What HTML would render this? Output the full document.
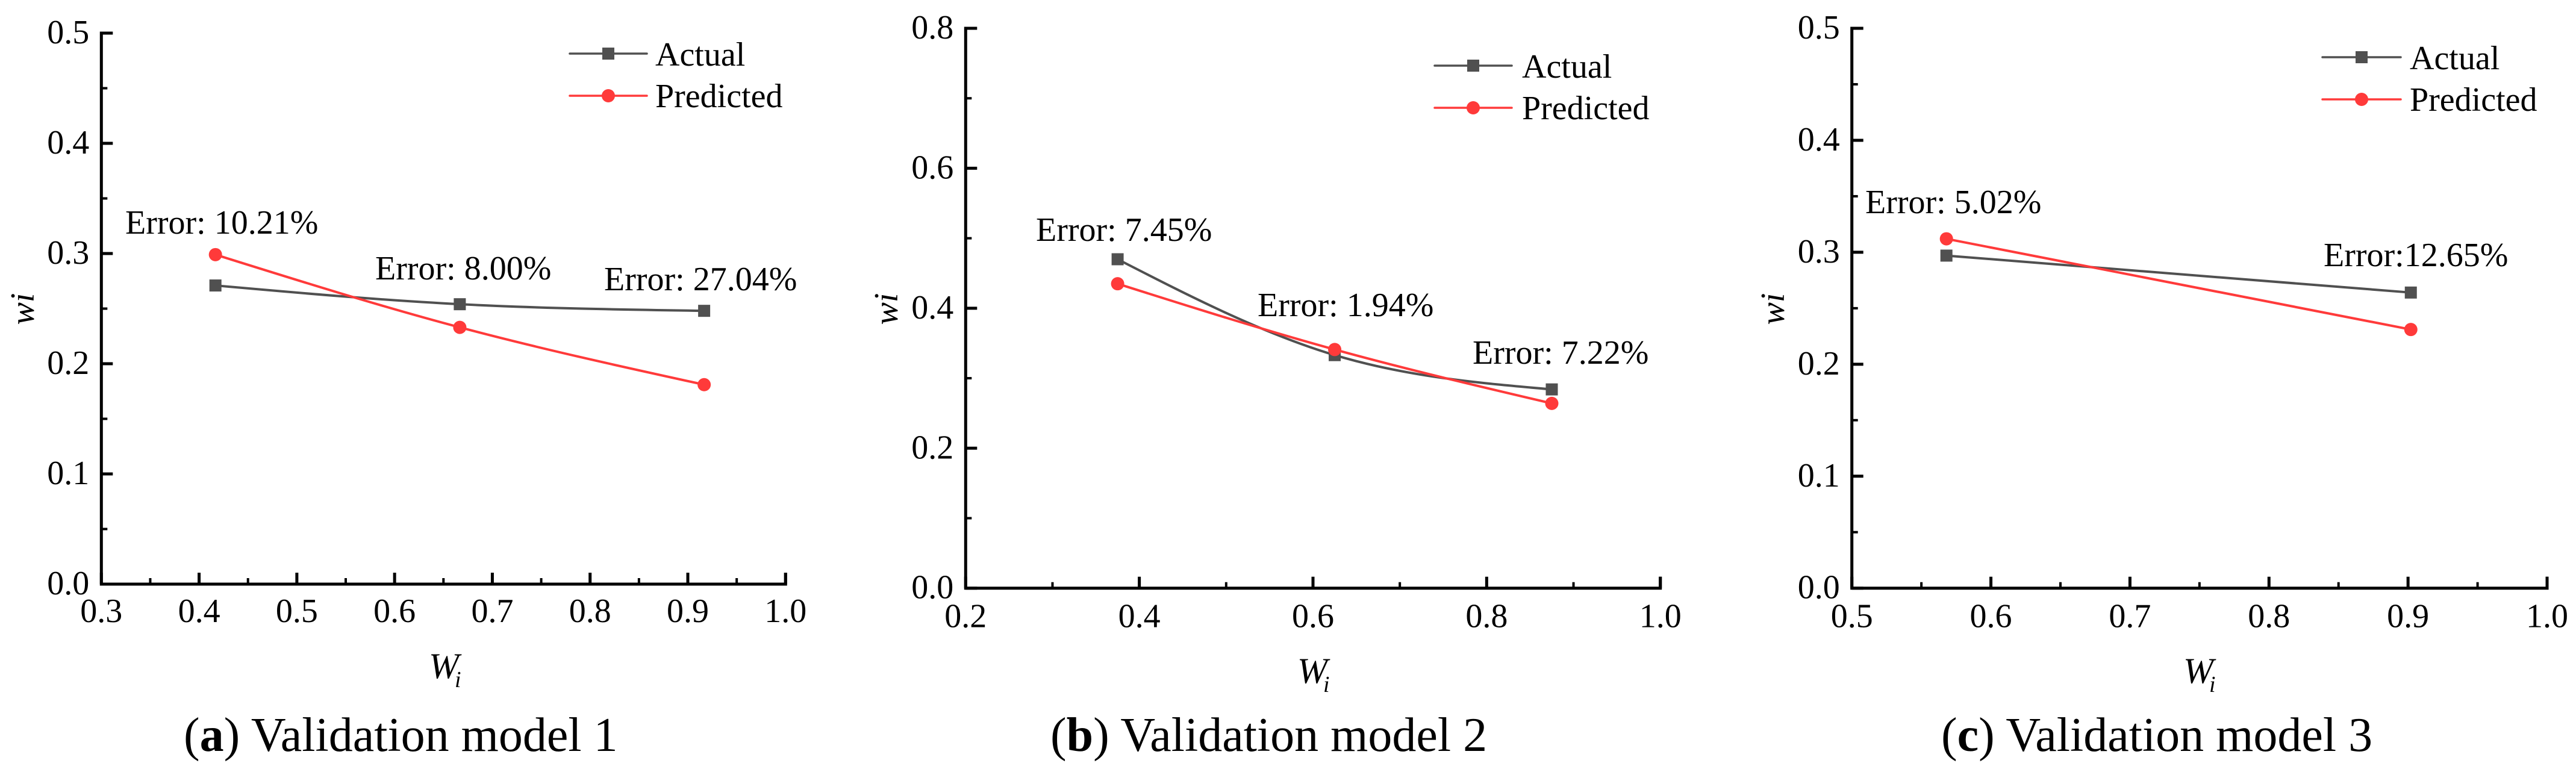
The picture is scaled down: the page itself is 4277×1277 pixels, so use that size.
<!DOCTYPE html>
<html lang="en">
<head>
<meta charset="utf-8">
<title>Validation models</title>
<style>
html,body{margin:0;padding:0;background:#fff;}
svg{display:block;}
text{font-family:"Liberation Serif",serif;font-size:56px;fill:#000;}
.cap{font-size:80px;}
.it{font-style:italic;}
.big{font-size:60px;}
.sub{font-size:38px;}
</style>
</head>
<body>
<svg id="chart" xmlns="http://www.w3.org/2000/svg" width="4277" height="1277" viewBox="0 0 4277 1277">
  <rect width="4277" height="1277" fill="#fff"/>

  <g>
    <text x="208" y="388">Error: 10.21%</text>
    <text x="623" y="464">Error: 8.00%</text>
    <text x="1003" y="482">Error: 27.04%</text>
    <text class="it big" x="712" y="1126">W</text>
    <text class="it sub" x="755" y="1141">i</text>
    <text class="it" text-anchor="middle" transform="translate(56 513) rotate(-90)">wi</text>
    <text class="cap" x="305" y="1247">(<tspan font-weight="bold">a</tspan>) Validation model 1</text>
    <text x="1088" y="109">Actual</text>
    <text x="1088" y="178">Predicted</text>
  </g>

  <g>
    <text x="1720" y="400">Error: 7.45%</text>
    <text x="2088" y="525">Error: 1.94%</text>
    <text x="2445" y="604">Error: 7.22%</text>
    <text class="it big" x="2154" y="1134">W</text>
    <text class="it sub" x="2197" y="1149">i</text>
    <text class="it" text-anchor="middle" transform="translate(1490 513) rotate(-90)">wi</text>
    <text class="cap" x="1744" y="1247">(<tspan font-weight="bold">b</tspan>) Validation model 2</text>
    <text x="2527" y="129">Actual</text>
    <text x="2527" y="198">Predicted</text>
  </g>

  <g>
    <text x="3097" y="354">Error: 5.02%</text>
    <text x="3858" y="442">Error:12.65%</text>
    <text class="it big" x="3625" y="1134">W</text>
    <text class="it sub" x="3668" y="1149">i</text>
    <text class="it" text-anchor="middle" transform="translate(2962 513) rotate(-90)">wi</text>
    <text class="cap" x="3223" y="1247">(<tspan font-weight="bold">c</tspan>) Validation model 3</text>
    <text x="4001" y="115">Actual</text>
    <text x="4001" y="184">Predicted</text>
  </g>
</svg>
<script>
// Panel (a)
var xValuesA = [0.4167, 0.6667, 0.9167];
var actualA = [0.271, 0.254, 0.248];
var predictedA = [0.299, 0.233, 0.181];
var xTicksA = ["0.3", "0.4", "0.5", "0.6", "0.7", "0.8", "0.9", "1.0"];
var yTicksA = ["0.0", "0.1", "0.2", "0.3", "0.4", "0.5"];

// Panel (b)
var xValuesB = [0.375, 0.625, 0.875];
var actualB = [0.47, 0.333, 0.284];
var predictedB = [0.435, 0.341, 0.264];
var xTicksB = ["0.2", "0.4", "0.6", "0.8", "1.0"];
var yTicksB = ["0.0", "0.2", "0.4", "0.6", "0.8"];

// Panel (c)
var xValuesC = [0.568, 0.902];
var actualC = [0.297, 0.264];
var predictedC = [0.312, 0.231];
var xTicksC = ["0.5", "0.6", "0.7", "0.8", "0.9", "1.0"];
var yTicksC = ["0.0", "0.1", "0.2", "0.3", "0.4", "0.5"];

var ACTUAL_COLOR = "#505050";
var PREDICTED_COLOR = "#ff3a3a";
var SVG_NS = "http://www.w3.org/2000/svg";
var svg = document.getElementById("chart");

function make(tag, parent, props) {
  var el = document.createElementNS(SVG_NS, tag);
  for (var k in props) el.setAttribute(k, props[k]);
  parent.appendChild(el);
  return el;
}

// Natural cubic spline through the points, straight if there are only two.
function curvePath(px) {
  var n = px.length, i;
  var d = "M" + px[0][0] + " " + px[0][1];
  var h = [], s = [];
  for (i = 0; i < n - 1; i++) {
    h[i] = px[i + 1][0] - px[i][0];
    s[i] = (px[i + 1][1] - px[i][1]) / h[i];
  }
  // Thomas algorithm for second derivatives; ends are zero.
  var M = [], c = [], r = [];
  for (i = 0; i < n; i++) { M[i] = 0; c[i] = 0; r[i] = 0; }
  for (i = 1; i < n - 1; i++) {
    var b = 2 * (h[i - 1] + h[i]) - h[i - 1] * c[i - 1];
    c[i] = h[i] / b;
    r[i] = (6 * (s[i] - s[i - 1]) - h[i - 1] * r[i - 1]) / b;
  }
  for (i = n - 2; i > 0; i--) M[i] = r[i] - c[i] * M[i + 1];
  for (i = 0; i < n - 1; i++) {
    var m0 = s[i] - h[i] * (2 * M[i] + M[i + 1]) / 6;
    var m1 = s[i] + h[i] * (M[i] + 2 * M[i + 1]) / 6;
    d += " C" + (px[i][0] + h[i] / 3) + " " + (px[i][1] + m0 * h[i] / 3) + " " +
         (px[i + 1][0] - h[i] / 3) + " " + (px[i + 1][1] - m1 * h[i] / 3) + " " +
         px[i + 1][0] + " " + px[i + 1][1];
  }
  return d;
}

function drawSeries(parent, id, xs, ys, color, isSquare, sx, sy) {
  var g = make("g", parent, {});
  
  
  var pts = xs.map(function (x, i) { return [sx(x), sy(ys[i])]; });
  var line = make("path", g, {d: curvePath(pts), fill: "none", stroke: color, "stroke-width": 4});
  
  
  pts.forEach(function (p) {
    var m;
    if (isSquare) {
      m = make("rect", g, {x: p[0] - 10, y: p[1] - 10, width: 20, height: 20, fill: color});
    } else {
      m = make("circle", g, {cx: p[0], cy: p[1], r: 11, fill: color});
    }
    
    
  });
}

function drawLegendKey(parent, id, x1, x2, y, color, isSquare) {
  var line = make("line", parent, {x1: x1, x2: x2, y1: y, y2: y, stroke: color, "stroke-width": 3.5, "stroke-linecap": "round"});
  
  
  var mx = (x1 + x2) / 2, m;
  if (isSquare) {
    m = make("rect", parent, {x: mx - 10, y: y - 10, width: 20, height: 20, fill: color});
  } else {
    m = make("circle", parent, {cx: mx, cy: y, r: 11, fill: color});
  }
  
  
}

function drawPanel(id, frame, xValues, actual, predicted, xTicks, yTicks, lg) {
  var g = make("g", svg, {});
  
  

  var xMin = parseFloat(xTicks[0]), xMax = parseFloat(xTicks[xTicks.length - 1]);
  var yMin = parseFloat(yTicks[0]), yMax = parseFloat(yTicks[yTicks.length - 1]);
  var sx = function (v) { return frame.left + (v - xMin) / (xMax - xMin) * (frame.right - frame.left); };
  var sy = function (v) { return frame.bottom - (v - yMin) / (yMax - yMin) * (frame.bottom - frame.top); };

  var axisOpts = {stroke: "#000", "stroke-width": 5, fill: "none"};
  var axes = make("path", g, Object.assign({d: "M" + frame.left + " " + (frame.top - 2.5) + " V" + frame.bottom + " H" + frame.right + " V" + (frame.bottom - 19)}, axisOpts));
  
  

  xTicks.forEach(function (t, i) {
    var x = sx(parseFloat(t));
    var tick = make("line", g, {x1: x, x2: x, y1: frame.bottom, y2: frame.bottom - 19, stroke: "#000", "stroke-width": 5});
    
    
    var lab = make("text", g, {x: x, y: frame.bottom + frame.xLabelGap, "text-anchor": "middle"});
    lab.textContent = t;
    
    
    if (i < xTicks.length - 1) {
      var xm = sx((parseFloat(t) + parseFloat(xTicks[i + 1])) / 2);
      var minor = make("line", g, {x1: xm, x2: xm, y1: frame.bottom, y2: frame.bottom - 10, stroke: "#000", "stroke-width": 4});
      
      
    }
  });

  yTicks.forEach(function (t, i) {
    var y = sy(parseFloat(t));
    var tick = make("line", g, {x1: frame.left, x2: frame.left + 19, y1: y, y2: y, stroke: "#000", "stroke-width": 5});
    
    
    var lab = make("text", g, {x: frame.left - 20, y: y + 17, "text-anchor": "end"});
    lab.textContent = t;
    
    
    if (i < yTicks.length - 1) {
      var ym = sy((parseFloat(t) + parseFloat(yTicks[i + 1])) / 2);
      var minor = make("line", g, {x1: frame.left, x2: frame.left + 10, y1: ym, y2: ym, stroke: "#000", "stroke-width": 4});
      
      
    }
  });

  drawSeries(g, 'actual-' + id, xValues, actual, ACTUAL_COLOR, true, sx, sy);
  drawSeries(g, 'predicted-' + id, xValues, predicted, PREDICTED_COLOR, false, sx, sy);
  drawLegendKey(g, 'actual-' + id, lg.x1, lg.x2, lg.y1, ACTUAL_COLOR, true);
  drawLegendKey(g, 'predicted-' + id, lg.x1, lg.x2, lg.y2, PREDICTED_COLOR, false);
}

drawPanel('a', {left: 168.3, right: 1304.3, top: 55, bottom: 970, xLabelGap: 63},
  xValuesA, actualA, predictedA, xTicksA, yTicksA, {x1: 946, x2: 1074, y1: 89, y2: 159});
drawPanel('b', {left: 1603.3, right: 2756.7, top: 47, bottom: 976.7, xLabelGap: 65},
  xValuesB, actualB, predictedB, xTicksB, yTicksB, {x1: 2382, x2: 2510, y1: 109, y2: 179});
drawPanel('c', {left: 3074.7, right: 4229, top: 47, bottom: 976.7, xLabelGap: 65},
  xValuesC, actualC, predictedC, xTicksC, yTicksC, {x1: 3856, x2: 3986, y1: 95, y2: 165});
</script>
</body>
</html>
